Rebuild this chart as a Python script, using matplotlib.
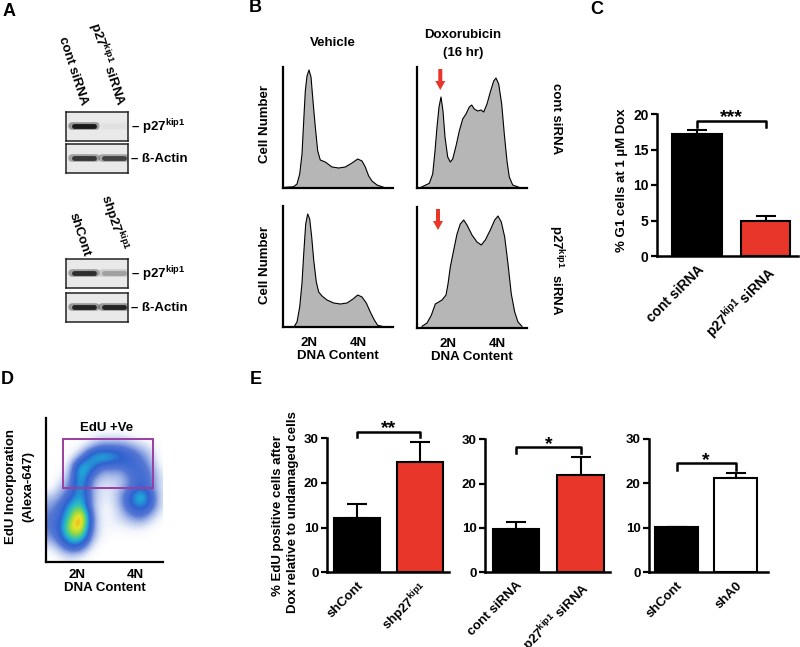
import numpy as np
import matplotlib
matplotlib.use("Agg")
import matplotlib.pyplot as plt
from matplotlib.colors import LinearSegmentedColormap
from matplotlib.patches import Rectangle

plt.rcParams["font.family"] = ["Liberation Sans", "DejaVu Sans"]
plt.rcParams["font.weight"] = "bold"
plt.rcParams["axes.labelweight"] = "bold"
plt.rcParams["mathtext.fontset"] = "custom"
plt.rcParams["mathtext.rm"] = "Liberation Sans:bold"
plt.rcParams["mathtext.bf"] = "Liberation Sans:bold"
plt.rcParams["mathtext.default"] = "bf"

RED = "#e8362a"
KIP = r"p27$^{kip1}$"

# ---- panel A: western blot band intensities (0 = none, 1 = strongest)
blot_names = [KIP, "ß-Actin", KIP, "ß-Actin"]
blot_levels = [[1.0, 0.04], [0.85, 0.8], [0.9, 0.35], [0.95, 0.95]]
lane_top = ["cont siRNA", KIP + " siRNA"]
lane_bottom = ["shCont", "sh" + KIP]

# ---- panel B: DNA content histograms (channel, cell count)
veh_cont_x = [2, 10.7, 14, 16.7, 19, 20.7, 22.3, 24, 26, 28, 30, 32.3, 34.7, 37.3, 42.3, 49,
              55.7, 62.3, 69, 74.7, 79, 82.3, 85.7, 89, 94, 100.7]
veh_cont_h = [0.7, 1.3, 4, 14, 34, 67, 97, 112, 118, 111, 87, 61, 37, 28, 26, 21,
              20, 21, 25, 29, 27, 21, 12, 7, 3, 0.7]
dox_cont_x = [4, 12.3, 15.7, 18, 20, 22, 24, 26, 28, 30.7, 33.3, 35.7, 39, 42.3, 45.7, 49, 52.3,
              54.7, 57.3, 60.7, 64, 66.7, 70, 73.3, 76.7, 79, 81.7, 84.7, 87.3, 90, 92.3, 95.7, 102]
dox_cont_h = [0.7, 4.7, 14, 37, 61, 81, 91, 77, 51, 31, 26, 29, 42, 57, 69, 74, 81,
              83, 79, 77, 78, 76, 84, 96, 107, 110, 104, 84, 54, 27, 11, 3, 0.7]
veh_p27_x = [11.3, 14, 16.7, 19, 20.7, 22.7, 24.7, 26.7, 28.7, 30.7, 33.3, 35.7, 39, 44, 50.7,
             57.3, 64, 70, 74.7, 79, 83.3, 87.3, 91.3, 94.7, 100.7]
veh_p27_h = [0.7, 5, 20, 44, 73, 103, 113, 108, 90, 67, 45, 35, 31, 27, 24,
             23, 24, 28, 32, 30, 24, 15, 7, 1.7, 0.3]
dox_p27_x = [5, 10, 14.3, 18.3, 21.7, 25, 29, 31, 33.3, 36.7, 40, 43.3, 46.7, 50, 55, 60, 64.3,
             68.3, 73.3, 77.7, 81, 84.3, 87.7, 91, 94.3, 97.7, 101, 105]
dox_p27_h = [1.7, 5, 12.7, 24, 26, 28, 33, 44, 61, 78, 94, 104, 108, 103, 93, 86, 83,
             88, 98, 108, 112, 106, 91, 64, 34, 16, 6, 1.7]

# ---- panel C
c_labels = ["cont siRNA", KIP + " siRNA"]
c_means = [17.2, 4.9]
c_errs = [0.5, 0.7]

# ---- panel D: EdU vs DNA content density, rows top -> bottom, 10-unit cells
edu_density = [
    [0, 0, 0, 0, 0, 0, 0, 0, 0, 0, 0, 0],
    [0, 0, 0, 0, 0.3, 0.5, 0.5, 0.5, 0.3, 0, 0, 0],
    [0, 0, 0, 0.3, 1, 2, 2, 2, 1.5, 1, 0.5, 0],
    [0, 0, 0.3, 1.5, 4.5, 5.5, 5, 4, 3, 2, 1, 0],
    [0, 0, 1, 5.5, 4.5, 2, 2, 2, 3, 2.5, 1.5, 0.2],
    [0, 0.3, 1.5, 5.5, 2, 1, 1, 1, 2, 3, 2, 0.5],
    [0, 1, 2, 5, 1.5, 0.5, 0.5, 1, 2, 3, 2, 0.5],
    [1, 1.5, 3, 5, 1.5, 0.5, 0.5, 1.5, 3.5, 6, 3, 0.5],
    [1.5, 2.5, 5, 6, 1.5, 0.3, 0.3, 1.2, 3, 4, 2.5, 0.5],
    [2, 3, 6, 10, 2, 0.3, 0.3, 0.8, 1.5, 2, 1, 0.2],
    [2, 3.5, 8, 9, 2, 0.3, 0.3, 0.3, 0.5, 0.5, 0.2, 0],
    [1.5, 3, 6, 6, 1.5, 0.3, 0, 0, 0, 0, 0, 0],
    [0.5, 1.5, 3, 2.5, 0.5, 0, 0, 0, 0, 0, 0, 0],
    [0, 0.3, 0.5, 0.3, 0, 0, 0, 0, 0, 0, 0, 0],
]

# ---- panel E
e1_labels = ["shCont", "sh" + KIP]
e1_means = [12.1, 24.8]
e1_errs = [3.2, 4.3]
e2_labels = ["cont siRNA", KIP + " siRNA"]
e2_means = [9.8, 22.0]
e2_errs = [1.5, 4.1]
e3_labels = ["shCont", "shA0"]
e3_means = [10.2, 21.2]
e3_errs = [0.1, 1.1]

W, H = 800, 647
fig = plt.figure(figsize=(8, 6.47), dpi=100)


def px_ax(x0, y0, w, h):
    return fig.add_axes([x0 / W, 1 - (y0 + h) / H, w / W, h / H])


def ftext(x, y, s, **kw):
    fig.text(x / W, 1 - y / H, s, **kw)


def clean(ax, lw=1.6):
    for s in ["top", "right"]:
        ax.spines[s].set_visible(False)
    for s in ["left", "bottom"]:
        ax.spines[s].set_linewidth(lw)


# panel letters
for letter, x, y in [("A", 9, 12), ("B", 255, 8), ("C", 597, 9), ("D", 7, 380), ("E", 256, 380)]:
    ftext(x, y, letter, fontsize=13, ha="center", va="center")

# ---------------- A
blot_y = [112, 144, 259, 293]
for name, levels, y0 in zip(blot_names, blot_levels, blot_y):
    ax = px_ax(66, y0, 62, 29)
    ax.set_xlim(0, 62)
    ax.set_ylim(0, 1)
    ax.set_facecolor("#e9e9e9")
    ax.set_xticks([])
    ax.set_yticks([])
    for s in ax.spines.values():
        s.set_linewidth(1.1)
        s.set_color("#222222")
    for c, v in zip([18, 48], levels):
        col = np.array([0.91, 0.91, 0.91]) + (np.array([0.1, 0.1, 0.1]) - 0.91) * v
        ax.plot([c - 12, c + 12], [0.52, 0.52], color=col, lw=5.5, alpha=0.4,
                solid_capstyle="round")
        ax.plot([c - 10, c + 10], [0.52, 0.52], color=col, lw=3.5, solid_capstyle="round")
    ftext(131, y0 + 15, "– " + name, fontsize=9.5, ha="left", va="center")

for lbl, (x, y) in zip(lane_top + lane_bottom, [(84, 105), (120, 106), (86, 256), (122, 251)]):
    ftext(x, y, lbl, fontsize=9.5, rotation=-72, ha="right", va="center",
          rotation_mode="anchor")

# ---------------- B
ftext(333, 43, "Vehicle", fontsize=9.5, ha="center", va="center")
ftext(463, 35, "Doxorubicin", fontsize=9.5, ha="center", va="center")
ftext(463, 53, "(16 hr)", fontsize=9.5, ha="center", va="center")

hists = [
    (283, 67, veh_cont_x, veh_cont_h, None, None),
    (417, 67, dox_cont_x, dox_cont_h, 23.3, None),
    (283, 206, veh_p27_x, veh_p27_h, None, [25.7, 75]),
    (417, 207, dox_p27_x, dox_p27_h, 21, [31, 80]),
]
for x0, y0, hx, hy, arrow_x, ticks in hists:
    ax = px_ax(x0, y0, 110, 121)
    ax.fill_between(hx, hy, 0, facecolor="#b6b6b6", edgecolor="none")
    ax.plot(hx, hy, color="black", lw=0.8)
    ax.set_xlim(0, 110)
    ax.set_ylim(0, 121)
    clean(ax, 1.6)
    ax.set_yticks([])
    if ticks:
        ax.set_xticks(ticks)
        ax.set_xticklabels(["2N", "4N"], fontsize=9.5)
        ax.tick_params(axis="x", length=0, pad=7)
        ax.set_xlabel("DNA Content", fontsize=9.5, labelpad=1)
    else:
        ax.set_xticks([])
    if arrow_x is not None:
        ax.arrow(arrow_x, 119, 0, -21, width=4, head_width=10, head_length=9,
                 length_includes_head=True, color=RED, lw=0, clip_on=False)

ftext(265, 124, "Cell Number", fontsize=9.5, rotation=90, ha="center", va="center")
ftext(265, 265, "Cell Number", fontsize=9.5, rotation=90, ha="center", va="center")
ftext(556, 119, "cont siRNA", fontsize=9.5, rotation=-90, ha="center", va="center")
ftext(556, 270, KIP + "  siRNA", fontsize=9.5, rotation=-90, ha="center", va="center")


# ---------------- bar charts (C and E)
def bar_panel(ax, labels, means, errs, colors, ymax, yticks, sig, br_y, br_drop,
              xlim, fs=9.5):
    x = np.arange(len(means))
    ax.bar(x, means, width=0.72, color=colors, edgecolor="black", linewidth=1.5, zorder=2)
    for xi, m, e in zip(x, means, errs):
        ax.errorbar(xi, m, yerr=[[0], [e]], fmt="none", ecolor="black", elinewidth=1.5,
                    capsize=7, capthick=1.5, zorder=1)
    ax.plot([0, 0, 1, 1], [br_drop, br_y, br_y, br_drop], color="black", lw=1.8,
            clip_on=False)
    ax.annotate(sig, xy=(0.5, br_y), xytext=(0, -1), textcoords="offset points",
                ha="center", va="baseline", fontsize=14, annotation_clip=False)
    ax.set_xlim(*xlim)
    ax.set_ylim(0, ymax)
    ax.set_yticks(yticks)
    ax.set_yticklabels([str(t) for t in yticks], fontsize=fs)
    ax.set_xticks(x)
    ax.set_xticklabels(labels, rotation=45, ha="right", va="top", rotation_mode="anchor",
                       fontsize=fs)
    ax.tick_params(axis="x", length=0, pad=5)
    ax.tick_params(axis="y", length=4, width=1.6, pad=2)
    clean(ax, 1.8)


ax_c = px_ax(657, 114, 141, 142)
bar_panel(ax_c, c_labels, c_means, c_errs, ["black", RED], 20, [0, 5, 10, 15, 20], "***",
          19.0, 18.2, (-0.58, 1.47), fs=10)
ftext(622, 180, "% G1 cells at 1 µM Dox", fontsize=9.5, rotation=90, ha="center", va="center")

# ---------------- D
ax_d = px_ax(46, 418, 117, 144)
cmap = LinearSegmentedColormap.from_list("flow", [
    (0.0, "white"), (0.03, "#f2f5fc"), (0.1, "#b4c4ec"), (0.2, "#5577d4"),
    (0.33, "#2f62d0"), (0.45, "#20a8d8"), (0.55, "#40c8a0"), (0.65, "#90d848"),
    (0.77, "#e8e428"), (0.88, "#f08820"), (1.0, "#e01818")])
ax_d.imshow(np.array(edu_density), extent=(0, 120, 0, 140), cmap=cmap, vmin=0, vmax=10,
            interpolation="bicubic", aspect="auto", origin="upper")
ax_d.add_patch(Rectangle((16.7, 74), 90, 49, fill=False, edgecolor="#9b3fa0", lw=1.4))
ax_d.text(61, 134, "EdU +Ve", fontsize=9.5, ha="center", va="center")
ax_d.set_xlim(0, 117)
ax_d.set_ylim(0, 144)
clean(ax_d, 1.6)
ax_d.set_yticks([])
ax_d.set_xticks([31, 89])
ax_d.set_xticklabels(["2N", "4N"], fontsize=9.5)
ax_d.tick_params(axis="x", length=0, pad=5)
ax_d.set_xlabel("DNA Content", fontsize=9.5, labelpad=1)
ftext(11, 487, "EdU Incorporation", fontsize=9.5, rotation=90, ha="center", va="center")
ftext(28, 487, "(Alexa-647)", fontsize=9.5, rotation=90, ha="center", va="center")

# ---------------- E
ax_e1 = px_ax(327, 438.3, 122, 134)
bar_panel(ax_e1, e1_labels, e1_means, e1_errs, ["black", RED], 30, [0, 10, 20, 30], "**",
          31.5, 30.3, (-0.476, 1.46))
ax_e2 = px_ax(485, 439.3, 125, 133)
bar_panel(ax_e2, e2_labels, e2_means, e2_errs, ["black", RED], 30, [0, 10, 20, 30], "*",
          28.2, 27.0, (-0.49, 1.46))
ax_e3 = px_ax(649, 439, 119, 133.3)
bar_panel(ax_e3, e3_labels, e3_means, e3_errs, ["black", "white"], 30, [0, 10, 20, 30], "*",
          24.5, 23.1, (-0.47, 1.55))
ftext(278, 516, "% EdU positive cells after", fontsize=9.5, rotation=90, ha="center", va="center")
ftext(293, 512, "Dox relative to undamaged cells", fontsize=9.5, rotation=90, ha="center",
      va="center")

fig.savefig("out.png", dpi=100)
